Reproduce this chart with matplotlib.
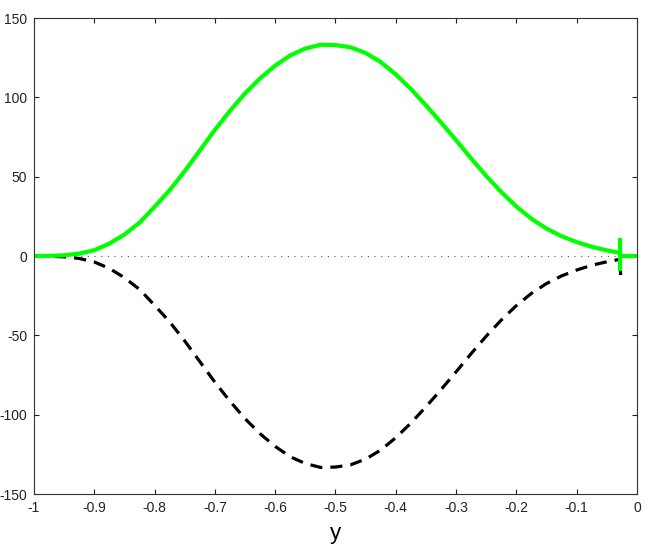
import matplotlib
matplotlib.use("Agg")
import matplotlib.pyplot as plt

# ── data ──
y_pos = [-1.0, -0.975, -0.95, -0.925, -0.9, -0.875, -0.85, -0.825, -0.8,
         -0.775, -0.75, -0.725, -0.7, -0.675, -0.65, -0.625, -0.6, -0.575,
         -0.55, -0.525, -0.5, -0.475, -0.45, -0.425, -0.4, -0.375, -0.35,
         -0.325, -0.3, -0.275, -0.25, -0.225, -0.2, -0.175, -0.15, -0.125,
         -0.1, -0.075, -0.05, -0.028, -0.028, 0.0]
upper = [0.0, 0.1, 0.5, 1.5, 3.7, 7.8, 13.6, 21.0, 31.0,
         41.5, 53.5, 66.5, 79.5, 91.5, 102.5, 112.0, 120.0, 126.5,
         130.8, 133.2, 133.0, 131.6, 128.0, 122.3, 114.5, 105.3, 95.0,
         84.2, 73.0, 61.5, 50.5, 40.3, 31.2, 23.5, 17.3, 12.5,
         8.8, 5.8, 3.6, 2.0, 0.0, 0.0]
lower = [-v for v in upper]

mark_y = -0.028
mark_green = (-8.0, 10.0)
mark_black = (-10.5, -7.0)

xticks = [-1, -0.9, -0.8, -0.7, -0.6, -0.5, -0.4, -0.3, -0.2, -0.1, 0]
xticklabels = ["-1", "-0.9", "-0.8", "-0.7", "-0.6", "-0.5", "-0.4",
               "-0.3", "-0.2", "-0.1", "0"]
yticks = [-150, -100, -50, 0, 50, 100, 150]

plt.rcParams.update({
    "font.family": ["Liberation Sans", "DejaVu Sans"],
    "font.size": 10,
    "axes.linewidth": 0.8,
    "axes.unicode_minus": False,
})

fig = plt.figure(figsize=(6.53, 5.48), dpi=100)
ax = fig.add_axes([0.052, 0.0985, 0.9235, 0.8685])

# zero reference, mirrored (dashed) curve, then the main green curve
ax.plot([-1, 0], [0, 0], color="#555555", lw=0.8, linestyle=(0, (1, 5)))
ax.plot(y_pos, lower, color="black", lw=2.3, dashes=(3.8, 2.5))
ax.plot([mark_y, mark_y], mark_black, color="black", lw=2.3)
ax.plot(y_pos, upper, color="#00ff00", lw=3.0)
ax.plot([mark_y, mark_y], mark_green, color="#00ff00", lw=3.0)

ax.set_xlim(-1, 0)
ax.set_ylim(-150, 150)
ax.set_xticks(xticks)
ax.set_xticklabels(xticklabels)
ax.set_yticks(yticks)
ax.tick_params(direction="in", length=3.5, width=0.8, top=True, right=True,
               labelsize=10, pad=5, colors="#222222")
for s in ax.spines.values():
    s.set_color("#333333")

ax.set_xlabel("y", fontsize=16, labelpad=6)

fig.savefig("out.png", dpi=100)
